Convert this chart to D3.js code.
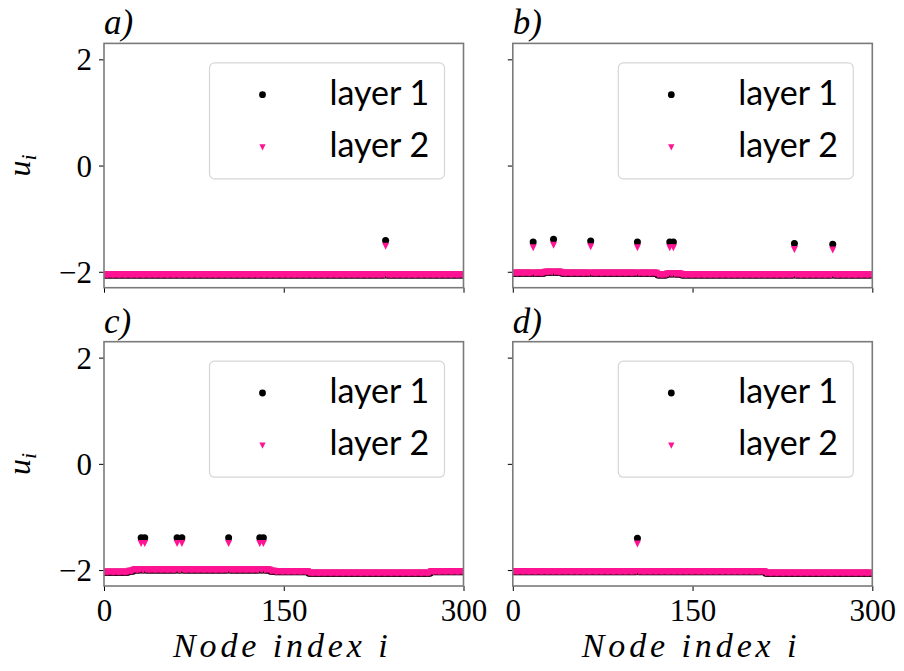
<!DOCTYPE html>
<html><head><meta charset="utf-8">
<script src="https://cdn.jsdelivr.net/npm/d3@7"></script>
<style>
body{margin:0;background:#fff}
.serif{font-family:"Liberation Serif","Times New Roman",Tinos,"DejaVu Serif","Noto Serif",serif;}
</style>
</head><body>
<svg id="chart" width="904" height="671"></svg>
<script>
// ---------------- data ----------------
const nodeCount = 300;
const panelLabels = ["a)", "b)", "c)", "d)"];
const seriesNames = ["layer 1", "layer 2"];
const xTicks = [0, 150, 300];
const yTicks = [-2, 0, 2];
const yTickLabels = ["\u22122", "0", "2"];

// baseline runs of u_i shared by both layers: [first node, last node, u]
const baseA = [[0, 299, -2.06]];
const baseB = [[0, 26, -2.03], [27, 40, -2.01], [41, 120, -2.03], [121, 128, -2.06], [129, 140, -2.04], [141, 299, -2.06]];
const baseC = [[0, 20, -2.04], [21, 24, -2.02], [25, 138, -2.0], [139, 142, -2.02], [143, 170, -2.03], [171, 272, -2.06], [273, 299, -2.03]];
const baseD = [[0, 210, -2.03], [211, 299, -2.06]];

// excited nodes and their values
const spikeNodesA = [235];
const spikeL1A = [-1.41];
const spikeL2A = [-1.52];
const spikeNodesB = [17, 34, 65, 104, 131, 134, 235, 267];
const spikeL1B = [-1.44, -1.39, -1.42, -1.44, -1.44, -1.44, -1.47, -1.48];
const spikeL2B = [-1.55, -1.50, -1.53, -1.55, -1.55, -1.55, -1.58, -1.59];
const spikeNodesC = [31, 34, 61, 65, 104, 130, 133];
const spikeL1C = [-1.39, -1.39, -1.39, -1.39, -1.39, -1.39, -1.39];
const spikeL2C = [-1.50, -1.50, -1.50, -1.50, -1.50, -1.50, -1.50];
const spikeNodesD = [104];
const spikeL1D = [-1.40];
const spikeL2D = [-1.51];

const layerColors = ["#000000", "#ff1493"];

// ---------------- build ----------------
function expand(base, nodes, vals) {
  const u = new Array(nodeCount);
  base.forEach(([s, e, v]) => { for (let i = s; i <= e; i++) u[i] = v; });
  nodes.forEach((n, k) => { u[n] = vals[k]; });
  return u.map((v, i) => ({ i, u: v }));
}
const panels = [
  { label: panelLabels[0], l1: expand(baseA, spikeNodesA, spikeL1A), l2: expand(baseA, spikeNodesA, spikeL2A) },
  { label: panelLabels[1], l1: expand(baseB, spikeNodesB, spikeL1B), l2: expand(baseB, spikeNodesB, spikeL2B) },
  { label: panelLabels[2], l1: expand(baseC, spikeNodesC, spikeL1C), l2: expand(baseC, spikeNodesC, spikeL2C) },
  { label: panelLabels[3], l1: expand(baseD, spikeNodesD, spikeL1D), l2: expand(baseD, spikeNodesD, spikeL2D) }
];

const svg = d3.select("#chart");
const pw = 359.5, ph = 244.3;
const layout = [{ x: 104, y: 43.4 }, { x: 512.8, y: 43.4 }, { x: 104, y: 341.7 }, { x: 512.8, y: 341.7 }];
const x = d3.scaleLinear().domain([0, 300]).range([0, pw]);
const y = d3.scaleLinear().domain([-2.3, 2.3]).range([ph, 0]);
const tri = "M-3.5,-3.5L3.5,-3.5L0,3.5Z";

svg.append("defs").append("clipPath").attr("id", "clip")
  .append("rect").attr("width", pw).attr("height", ph);

panels.forEach((p, k) => {
  const pos = layout[k];
  const g = svg.append("g").attr("transform", `translate(${pos.x},${pos.y})`);
  const isLeft = k % 2 === 0, isBottom = k >= 2;

  const plot = g.append("g").attr("clip-path", "url(#clip)");
  plot.selectAll("circle").data(p.l1).join("circle")
    .attr("cx", d => x(d.i)).attr("cy", d => y(d.u)).attr("r", 3.5)
    .attr("fill", layerColors[0]);
  plot.selectAll("path").data(p.l2).join("path")
    .attr("d", tri).attr("transform", d => `translate(${x(d.i)},${y(d.u)})`)
    .attr("fill", layerColors[1]);

  // axes
  const xa = g.append("g").attr("transform", `translate(0,${ph})`)
    .call(d3.axisBottom(x).tickValues(xTicks).tickSize(5).tickPadding(6)
      .tickFormat(isBottom ? d3.format("d") : () => ""));
  const ya = g.append("g")
    .call(d3.axisLeft(y).tickValues(yTicks).tickSize(5).tickPadding(7)
      .tickFormat((d, j) => isLeft ? yTickLabels[j] : ""));
  [xa, ya].forEach(a => {
    a.attr("font-family", null).attr("font-size", null);
    a.select(".domain").remove();
    a.selectAll(".tick line").attr("stroke", "#000").attr("stroke-width", 1);
    a.selectAll(".tick text").attr("class", "serif").attr("fill", "#000").style("font-size", "31px");
  });
  xa.selectAll(".tick text").attr("dy", "0.78em");
  ya.selectAll(".tick text").attr("dy", "0.34em");

  // spines
  g.append("rect").attr("width", pw).attr("height", ph)
    .attr("fill", "none").attr("stroke", "#7a7a7a").attr("stroke-width", 1.6);

  // panel label
  g.append("text").attr("class", "serif").attr("x", 0).attr("y", -9)
    .style("font-style", "italic").style("font-size", "35px")
    .text(p.label);

  // legend
  const lg = g.append("g").attr("transform", `translate(${pw - 19 - 235},19.5)`);
  lg.append("rect").attr("width", 235).attr("height", 116).attr("rx", 5)
    .attr("fill", "#fff").attr("fill-opacity", 0.8).attr("stroke", "#d6d6d6").attr("stroke-width", 1.2);
  lg.append("circle").attr("cx", 53).attr("cy", 31.8).attr("r", 3.4).attr("fill", layerColors[0]);
  lg.append("path").attr("d", tri).attr("transform", "translate(53,84.5) scale(0.9)").attr("fill", layerColors[1]);
  seriesNames.forEach((s, j) => {
    lg.append("text").attr("x", 120).attr("y", 41.8 + j * 52)
      .style("font-family", "Lato, 'Open Sans', sans-serif").style("font-size", "34px")
      .attr("fill", "#000").text(s);
  });

  // y label
  if (isLeft) {
    const t = svg.append("text").attr("class", "serif")
      .attr("transform", `translate(${30},${pos.y + y(0)}) rotate(-90)`)
      .attr("text-anchor", "middle")
      .style("font-style", "italic").style("font-size", "32px");
    t.append("tspan").text("u");
    t.append("tspan").attr("dy", 6).style("font-size", "22px").text("i");
  }
  // x label
  if (isBottom) {
    svg.append("text").attr("class", "serif").attr("x", pos.x + pw / 2 - 1.5).attr("y", 657)
      .attr("text-anchor", "middle")
      .style("font-style", "italic").style("font-size", "34px")
      .style("letter-spacing", "3.9px")
      .text("Node index i");
  }
});
</script>
</body></html>
